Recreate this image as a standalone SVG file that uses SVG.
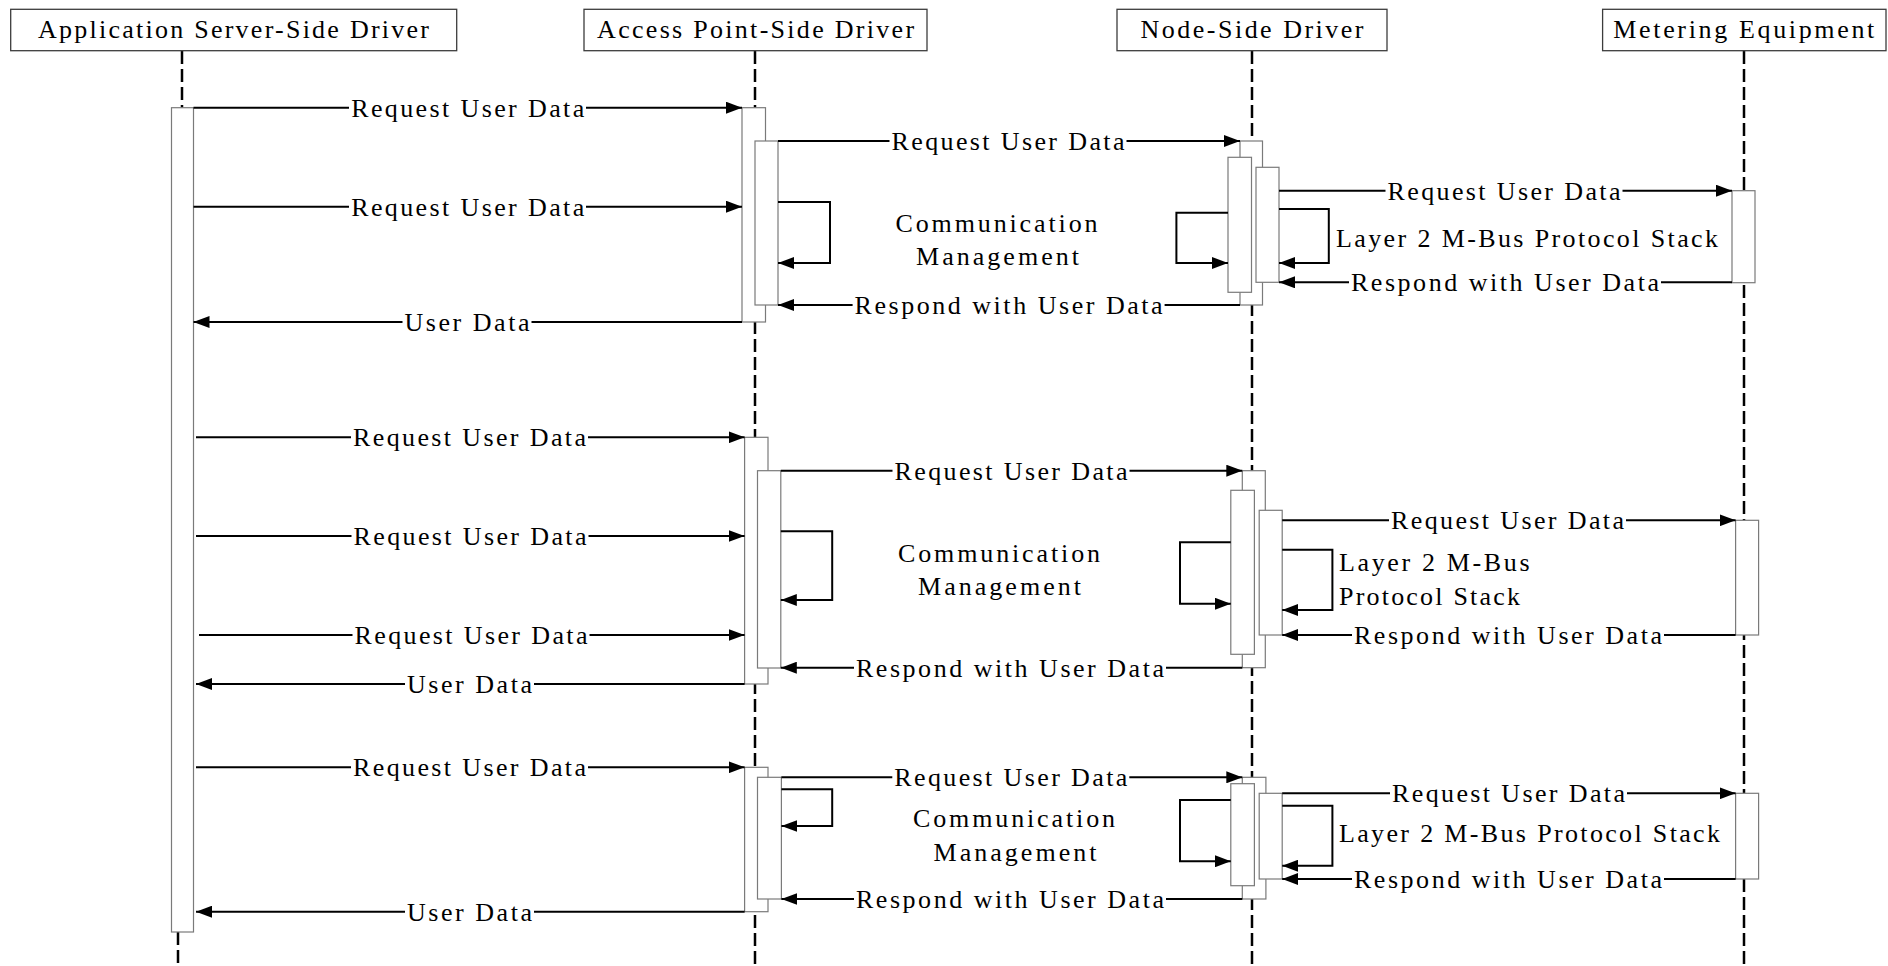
<svg xmlns="http://www.w3.org/2000/svg" width="1888" height="966" viewBox="0 0 1888 966">
<style>
.hdr{fill:#fff;stroke:#3c3c3c;stroke-width:1.3}
.life{stroke:#000;stroke-width:2.5;stroke-dasharray:13 5;fill:none}
.act{fill:#fff;stroke:#7a7a7a;stroke-width:1.2}
.msg{stroke:#000;stroke-width:2;fill:none;marker-end:url(#ah)}
.bg{fill:#fff}
.t{font-family:"Liberation Serif","Times New Roman",serif;font-size:26px;fill:#000;text-anchor:middle}
.ts{font-family:"Liberation Serif","Times New Roman",serif;font-size:26px;fill:#000;text-anchor:start}
.th{font-family:"Liberation Serif","Times New Roman",serif;font-size:26px;fill:#000;text-anchor:middle}
</style>
<defs>
<marker id="ah" markerUnits="userSpaceOnUse" markerWidth="16" markerHeight="12" refX="16" refY="6" orient="auto">
<path d="M0,0 L16,6 L0,12 z" fill="#000"/>
</marker>
</defs>
<rect width="1888" height="966" fill="#fff"/>

<g id="app-server">
<line class="life" x1="182" y1="51" x2="182" y2="107.7"/>
<line class="life" x1="178" y1="932" x2="178" y2="966"/>
<rect class="hdr" x="10.7" y="9.3" width="446" height="41.4"/>
<text class="th" x="233.5" y="38" textLength="391" lengthAdjust="spacing">Application Server-Side Driver</text>
<rect class="act" x="171.5" y="107.7" width="22" height="824.3"/>
</g>

<g id="access-point">
<line class="life" x1="755" y1="51" x2="755" y2="966"/>
<rect class="hdr" x="584" y="9.3" width="343" height="41.4"/>
<text class="th" x="755.6" y="38" textLength="317" lengthAdjust="spacing">Access Point-Side Driver</text>
<rect class="act" x="742" y="107.7" width="23.5" height="214.3"/>
<rect class="act" x="755" y="141" width="23" height="164"/>
<rect class="act" x="744.6" y="437.3" width="23.4" height="246.7"/>
<rect class="act" x="757.5" y="470.7" width="23.3" height="197.3"/>
<rect class="act" x="744.6" y="767.3" width="23.4" height="144.4"/>
<rect class="act" x="757.5" y="777.3" width="23.9" height="121.7"/>
</g>

<g id="node-side">
<line class="life" x1="1252" y1="51" x2="1252" y2="966"/>
<rect class="hdr" x="1117" y="9.3" width="270" height="41.4"/>
<text class="th" x="1252" y="38" textLength="223" lengthAdjust="spacing">Node-Side Driver</text>
<rect class="act" x="1240" y="141" width="22.5" height="164"/>
<rect class="act" x="1228" y="157.3" width="23.5" height="135"/>
<rect class="act" x="1256" y="167.3" width="23" height="115"/>
<rect class="act" x="1242.3" y="470.7" width="23" height="197"/>
<rect class="act" x="1230.8" y="490.3" width="23.6" height="164"/>
<rect class="act" x="1259.2" y="510.3" width="23" height="124.7"/>
<rect class="act" x="1242.3" y="777.3" width="23.6" height="121.7"/>
<rect class="act" x="1230.8" y="783.7" width="23.6" height="102"/>
<rect class="act" x="1259.2" y="793.3" width="23" height="85.7"/>
</g>

<g id="metering">
<line class="life" x1="1744" y1="51" x2="1744" y2="966"/>
<rect class="hdr" x="1602.6" y="9.3" width="283.4" height="41.4"/>
<text class="th" x="1743.8" y="38" textLength="261" lengthAdjust="spacing">Metering Equipment</text>
<rect class="act" x="1732" y="190.7" width="23" height="92"/>
<rect class="act" x="1735.6" y="520.3" width="23" height="114.7"/>
<rect class="act" x="1735.6" y="793.3" width="23" height="85.7"/>
</g>

<g id="connectors">
<!-- Section 1 -->
<line class="msg" x1="193.5" y1="107.7" x2="742" y2="107.7"/>
<line class="msg" x1="778" y1="141" x2="1240" y2="141"/>
<line class="msg" x1="193.5" y1="206.7" x2="742" y2="206.7"/>
<path class="msg" d="M778,202 H830 V263 H778"/>
<path class="msg" d="M1228,212.7 H1176.4 V263 H1228"/>
<path class="msg" d="M1279,209 H1328.8 V263 H1279"/>
<line class="msg" x1="1279" y1="190.7" x2="1732" y2="190.7"/>
<line class="msg" x1="1732" y1="282.3" x2="1279" y2="282.3"/>
<line class="msg" x1="1240" y1="305" x2="778" y2="305"/>
<line class="msg" x1="742" y1="322" x2="193.5" y2="322"/>
<!-- Section 2 -->
<line class="msg" x1="196" y1="437.3" x2="744.6" y2="437.3"/>
<line class="msg" x1="780.8" y1="470.7" x2="1242.3" y2="470.7"/>
<line class="msg" x1="196" y1="536" x2="744.6" y2="536"/>
<path class="msg" d="M780.8,531.3 H832.2 V600 H780.8"/>
<line class="msg" x1="199" y1="635" x2="744.6" y2="635"/>
<line class="msg" x1="1242.3" y1="667.7" x2="780.8" y2="667.7"/>
<line class="msg" x1="744.6" y1="684" x2="196" y2="684"/>
<path class="msg" d="M1230.8,542.3 H1180 V603.7 H1230.8"/>
<path class="msg" d="M1282.2,549.7 H1332.4 V610 H1282.2"/>
<line class="msg" x1="1282.2" y1="520.3" x2="1735.6" y2="520.3"/>
<line class="msg" x1="1735.6" y1="635" x2="1282.2" y2="635"/>
<!-- Section 3 -->
<line class="msg" x1="196" y1="767.3" x2="744.6" y2="767.3"/>
<line class="msg" x1="781.4" y1="777.3" x2="1242.3" y2="777.3"/>
<path class="msg" d="M781.4,789.3 H832.2 V826 H781.4"/>
<line class="msg" x1="1242.3" y1="899" x2="781.4" y2="899"/>
<line class="msg" x1="744.6" y1="911.7" x2="196" y2="911.7"/>
<path class="msg" d="M1230.8,800 H1180 V861.3 H1230.8"/>
<path class="msg" d="M1282.2,805.7 H1332.4 V865.7 H1282.2"/>
<line class="msg" x1="1282.2" y1="793.3" x2="1735.6" y2="793.3"/>
<line class="msg" x1="1735.6" y1="879" x2="1282.2" y2="879"/>

<!-- label backgrounds -->
<rect class="bg" x="349" y="95" width="237" height="26"/>
<rect class="bg" x="889.5" y="128" width="237" height="26"/>
<rect class="bg" x="349" y="194" width="237" height="26"/>
<rect class="bg" x="1385.5" y="178" width="237" height="26"/>
<rect class="bg" x="1349" y="269.3" width="312" height="26"/>
<rect class="bg" x="852.6" y="292" width="312" height="26"/>
<rect class="bg" x="402.5" y="309" width="129" height="26"/>

<rect class="bg" x="351" y="424.3" width="237" height="26"/>
<rect class="bg" x="892.5" y="457.7" width="237" height="26"/>
<rect class="bg" x="351.5" y="523" width="237" height="26"/>
<rect class="bg" x="352.5" y="622" width="237" height="26"/>
<rect class="bg" x="854" y="654.7" width="312" height="26"/>
<rect class="bg" x="405" y="671" width="129" height="26"/>
<rect class="bg" x="1389" y="507.3" width="237" height="26"/>
<rect class="bg" x="1352" y="622" width="312" height="26"/>

<rect class="bg" x="351" y="754.3" width="237" height="26"/>
<rect class="bg" x="892.3" y="764.3" width="237" height="26"/>
<rect class="bg" x="854" y="886" width="312" height="26"/>
<rect class="bg" x="405" y="898.7" width="129" height="26"/>
<rect class="bg" x="1390" y="780.3" width="237" height="26"/>
<rect class="bg" x="1352" y="866" width="312" height="26"/>

<!-- labels section 1 -->
<text class="t" x="467.7" y="116.5" textLength="233" lengthAdjust="spacing">Request User Data</text>
<text class="t" x="1008" y="149.8" textLength="233" lengthAdjust="spacing">Request User Data</text>
<text class="t" x="467.7" y="215.5" textLength="233" lengthAdjust="spacing">Request User Data</text>
<text class="t" x="1504" y="199.5" textLength="233" lengthAdjust="spacing">Request User Data</text>
<text class="t" x="1505" y="291.1" textLength="308" lengthAdjust="spacing">Respond with User Data</text>
<text class="t" x="1008.6" y="313.8" textLength="308" lengthAdjust="spacing">Respond with User Data</text>
<text class="t" x="467" y="330.8" textLength="125" lengthAdjust="spacing">User Data</text>
<text class="t" x="996.5" y="232" textLength="202" lengthAdjust="spacing">Communication</text>
<text class="t" x="997.5" y="264.5" textLength="163" lengthAdjust="spacing">Management</text>
<text class="ts" x="1336" y="247" textLength="382" lengthAdjust="spacing">Layer 2 M-Bus Protocol Stack</text>

<!-- labels section 2 -->
<text class="t" x="469.5" y="446.1" textLength="233" lengthAdjust="spacing">Request User Data</text>
<text class="t" x="1011" y="479.5" textLength="233" lengthAdjust="spacing">Request User Data</text>
<text class="t" x="470" y="544.8" textLength="233" lengthAdjust="spacing">Request User Data</text>
<text class="t" x="471" y="643.8" textLength="233" lengthAdjust="spacing">Request User Data</text>
<text class="t" x="1010" y="676.5" textLength="308" lengthAdjust="spacing">Respond with User Data</text>
<text class="t" x="469.5" y="692.8" textLength="125" lengthAdjust="spacing">User Data</text>
<text class="t" x="1507.5" y="529.1" textLength="233" lengthAdjust="spacing">Request User Data</text>
<text class="t" x="1508" y="643.8" textLength="308" lengthAdjust="spacing">Respond with User Data</text>
<text class="t" x="999" y="561.7" textLength="202" lengthAdjust="spacing">Communication</text>
<text class="t" x="999.5" y="595" textLength="163" lengthAdjust="spacing">Management</text>
<text class="ts" x="1339" y="571" textLength="190.5" lengthAdjust="spacing">Layer 2 M-Bus</text>
<text class="ts" x="1339" y="605" textLength="181" lengthAdjust="spacing">Protocol Stack</text>

<!-- labels section 3 -->
<text class="t" x="469.5" y="776.1" textLength="233" lengthAdjust="spacing">Request User Data</text>
<text class="t" x="1010.8" y="786.1" textLength="233" lengthAdjust="spacing">Request User Data</text>
<text class="t" x="1010" y="907.8" textLength="308" lengthAdjust="spacing">Respond with User Data</text>
<text class="t" x="469.5" y="920.5" textLength="125" lengthAdjust="spacing">User Data</text>
<text class="t" x="1508.5" y="802.1" textLength="233" lengthAdjust="spacing">Request User Data</text>
<text class="t" x="1508" y="887.8" textLength="308" lengthAdjust="spacing">Respond with User Data</text>
<text class="t" x="1014" y="826.5" textLength="202" lengthAdjust="spacing">Communication</text>
<text class="t" x="1015" y="860.5" textLength="163" lengthAdjust="spacing">Management</text>
<text class="ts" x="1339" y="842" textLength="381" lengthAdjust="spacing">Layer 2 M-Bus Protocol Stack</text>
</g>
</svg>
